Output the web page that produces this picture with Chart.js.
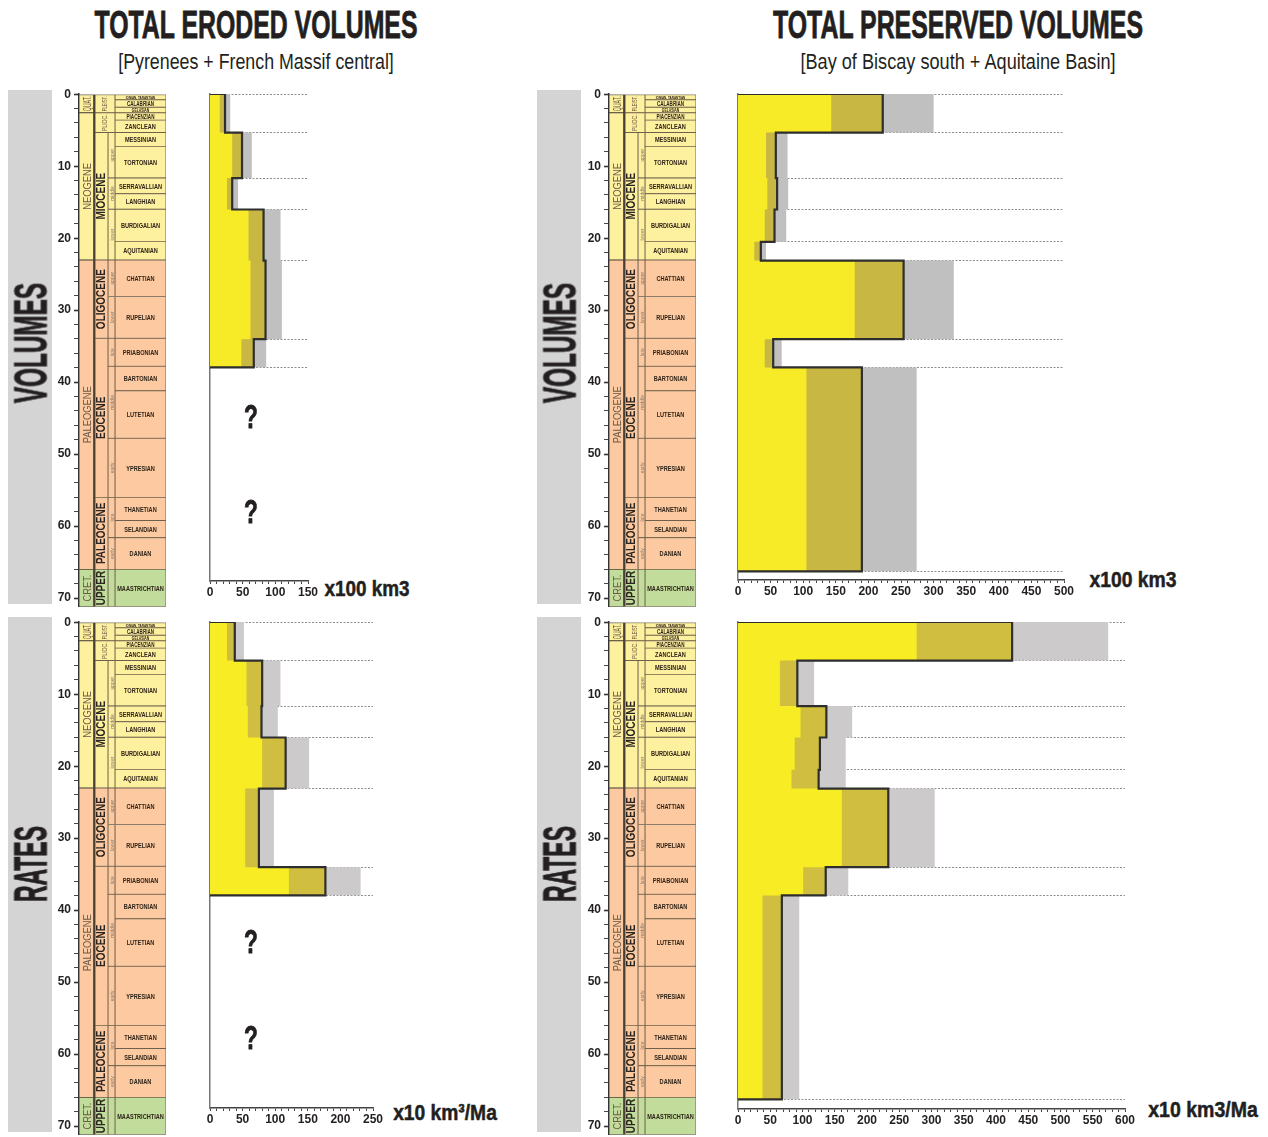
<!DOCTYPE html>
<html>
<head>
<meta charset="utf-8">
<title>Total eroded vs preserved volumes</title>
<script src="https://cdn.jsdelivr.net/npm/chart.js@4.4.1/dist/chart.umd.min.js"></script>
<style>
  html, body { margin: 0; padding: 0; background: #fff; }
  body { position: relative; width: 1268px; height: 1137px; overflow: hidden; font-family: 'Liberation Sans', Arial, sans-serif; color: #231f20; }
  .band { position: absolute; background: #d4d4d4; }
  .lbl { position: absolute; white-space: nowrap; line-height: 1; }
  canvas { position: absolute; }
</style>
</head>
<body>
<div class="band" style="left:8px;top:90px;width:44px;height:514px"></div>
<div class="band" style="left:8px;top:617px;width:44px;height:515px"></div>
<div class="band" style="left:537px;top:90px;width:44px;height:514px"></div>
<div class="band" style="left:537px;top:617px;width:44px;height:515px"></div>

<script>
// --- time scale (Ma) ---
const eraNames = ['QUAT.', 'NEOGENE', 'PALEOGENE', 'CRET.'];
const eraBounds = [0, 2.58, 23.03, 66, 71.2];
const upperEpochNames = ['PLEIST.', 'PLIOC.'];
const upperEpochBounds = [0, 2.58, 5.33];
const epochNames = ['MIOCENE', 'OLIGOCENE', 'EOCENE', 'PALEOCENE', 'UPPER'];
const epochBounds = [5.33, 23.03, 33.9, 56, 66, 71.2];
const subNames = ['upper', 'middle', 'lower', 'upper', 'lower', 'late', 'middle', 'early', 'late', 'early', ''];
const subBounds = [5.33, 11.63, 15.97, 23.03, 28.1, 33.9, 37.8, 47.8, 56, 61.6, 66, 71.2];
const stageNames = ['IONIAN, TARANTIAN', 'CALABRIAN', 'GELASIAN', 'PIACENZIAN', 'ZANCLEAN', 'MESSINIAN', 'TORTONIAN',
  'SERRAVALLIAN', 'LANGHIAN', 'BURDIGALIAN', 'AQUITANIAN', 'CHATTIAN', 'RUPELIAN', 'PRIABONIAN', 'BARTONIAN',
  'LUTETIAN', 'YPRESIAN', 'THANETIAN', 'SELANDIAN', 'DANIAN', 'MAASTRICHTIAN'];
const stageBounds = [0, 0.78, 1.8, 2.58, 3.6, 5.33, 7.25, 11.63, 13.82, 15.97, 20.44, 23.03, 28.1, 33.9, 37.8,
  41.2, 47.8, 56, 59.2, 61.6, 66, 71.2];

// --- eroded (Pyrenees + Massif central) ---
const erodedBounds = [0, 5.33, 11.63, 15.97, 23.03, 33.9, 37.8];
const erodedVolMin = [15, 34, 26, 59, 62, 48];
const erodedVolMid = [23, 49, 34, 82, 85, 67];
const erodedVolMax = [31, 64, 43, 108, 110, 86];
const erodedRateMin = [26, 56, 58, 80, 54, 121];
const erodedRateMid = [38, 80, 79, 116, 75, 177];
const erodedRateMax = [52, 108, 104, 152, 98, 231];

// --- preserved (Bay of Biscay south + Aquitaine) ---
const preservedBounds = [0, 5.33, 11.63, 15.97, 20.44, 23.03, 33.9, 37.8, 66];
const preservedVolMin = [143, 43, 45, 41, 25, 179, 41, 105];
const preservedVolMid = [222, 58, 60, 56, 35, 254, 54, 190];
const preservedVolMax = [300, 76, 77, 74, 43, 331, 67, 274];
const preservedRateMin = [277, 65, 97, 88, 83, 161, 101, 38];
const preservedRateMid = [425, 92, 137, 127, 125, 233, 136, 68];
const preservedRateMax = [574, 118, 177, 167, 167, 305, 171, 95];

const TS_MAX = 71.2;
const TS_H = 515;               // pixel height of the time column
const PX_PER_MA = TS_H / TS_MAX;
const FONT = "'Liberation Sans', Arial, sans-serif";

function periodColor(top, base) {
  const mid = (top + base) / 2;
  if (mid < 23.03) return '#fdf09f';
  if (mid < 66) return '#fcc9a1';
  return '#c2dc9c';
}

function cells(names, bounds, x) {
  return names.map((n, i) => ({ x: x, y: [bounds[i], bounds[i + 1]] }));
}

function addCanvas(left, top, w, h) {
  const c = document.createElement('canvas');
  c.width = w; c.height = h;
  c.style.left = left + 'px'; c.style.top = top + 'px';
  document.body.appendChild(c);
  return c;
}

// text inside the time column cells
const cellTextPlugin = {
  id: 'cellText',
  afterDatasetsDraw(chart) {
    const ctx = chart.ctx;
    chart.data.datasets.forEach((ds, di) => {
      if (!ds.cellText) return;
      chart.getDatasetMeta(di).data.forEach((bar, i) => {
        const txt = ds.cellText[i];
        if (!txt) return;
        const p = bar.getProps(['x', 'y', 'base', 'width'], true);
        const h = Math.abs(p.base - p.y);
        ctx.save();
        ctx.translate(p.x, (p.y + p.base) / 2);
        let size = ds.textSize;
        let avail;
        if (ds.textRotate) {
          ctx.rotate(-Math.PI / 2);
          avail = h - 3;
        } else {
          size = Math.min(size, h - 0.8);
          avail = p.width - 4;
        }
        ctx.font = ds.textWeight + ' ' + size + 'px ' + FONT;
        const tw = ctx.measureText(txt).width;
        ctx.scale(Math.min(ds.textSqueeze, avail / tw), 1);
        ctx.fillStyle = ds.textColor;
        ctx.textAlign = 'center';
        ctx.textBaseline = 'middle';
        ctx.fillText(txt, 0, 0.5);
        ctx.restore();
      });
    });
  }
};

function columnDataset(names, bounds, x, w, text, extra) {
  return Object.assign({
    data: cells(names, bounds, x),
    barThickness: w,
    backgroundColor: ctx => {
      const r = ctx.raw; return r ? periodColor(r.y[0], r.y[1]) : '#fff';
    },
    borderColor: '#6f604c',
    borderWidth: 0.8,
    borderSkipped: false,
    cellText: names,
    textColor: '#3b2f22'
  }, text, extra || {});
}

function makeTimeScale(left, top) {
  const canvas = addCanvas(left - 40, top - 10, 127, TS_H + 18);
  new Chart(canvas, {
    type: 'bar',
    data: {
      datasets: [
        columnDataset(eraNames, eraBounds, 8, 16, { textRotate: true, textSize: 11, textWeight: 'normal', textSqueeze: 0.85, textColor: '#6b5a45' },
          { borderWidth: { top: 0.8, bottom: 0.8, left: 0.8, right: 2.2 }, borderColor: '#4a4035' }),
        columnDataset(upperEpochNames, upperEpochBounds, 26, 20, { textRotate: true, textSize: 6.5, textWeight: 'normal', textSqueeze: 0.85, textColor: '#6b5a45' }),
        columnDataset(epochNames, epochBounds, 22.5, 13, { textRotate: true, textSize: 12.5, textWeight: 'bold', textSqueeze: 0.8, textColor: '#2a2520' }),
        columnDataset(subNames, subBounds, 32.5, 7, { textRotate: true, textSize: 5.5, textWeight: 'normal', textSqueeze: 0.9, textColor: '#8a7a66' }),
        columnDataset(stageNames, stageBounds, 61.5, 51, { textRotate: false, textSize: 8, textWeight: 'bold', textSqueeze: 0.7, textColor: '#2f2418' })
      ]
    },
    options: {
      responsive: false,
      animation: false,
      layout: { padding: { top: 10, bottom: 8, left: 0, right: 0 } },
      plugins: { legend: { display: false }, tooltip: { enabled: false } },
      datasets: { bar: { grouped: false } },
      scales: {
        x: { type: 'linear', display: false, min: 0, max: 87, offset: false, grid: { offset: false } },
        y: {
          type: 'linear', reverse: true, min: 0, max: TS_MAX,
          ticks: { stepSize: 2, includeBounds: false, autoSkip: false, padding: 3, color: '#231f20',
            font: { family: FONT, size: 12, weight: 'bold' },
            callback: v => (v % 10 === 0 ? v : '') },
          grid: { drawOnChartArea: false, tickLength: 5, color: '#333',
            tickWidth: c => (c.tick && c.tick.value % 10 === 0 ? 1.6 : 0.9) },
          border: { color: '#333', width: 1.5 },
          afterFit: s => { s.width = 40; }
        }
      }
    },
    plugins: [cellTextPlugin]
  });
}

function stepPoints(bounds, vals) {
  const pts = [{ x: 0, y: bounds[0] }];
  vals.forEach((v, i) => {
    pts.push({ x: v, y: bounds[i] });
    pts.push({ x: v, y: bounds[i + 1] });
  });
  pts.push({ x: 0, y: bounds[bounds.length - 1] });
  return pts;
}

function makeBars(left, top, areaW, axisY, xMax, bounds, mins, mids, maxs, pal) {
  const areaH = axisY - top;
  const canvas = addCanvas(left - 10, top - 10, areaW + 24, areaH + 32);
  new Chart(canvas, {
    type: 'line',
    data: {
      datasets: [
        { data: stepPoints(bounds, mids), borderColor: '#2e2e2e', borderWidth: 2.2, fill: false },
        { data: stepPoints(bounds, mins), borderWidth: 0, borderColor: 'rgba(0,0,0,0)', backgroundColor: pal[0], fill: 'origin' },
        { data: stepPoints(bounds, mids), borderWidth: 0, borderColor: 'rgba(0,0,0,0)', backgroundColor: pal[1], fill: 'origin' },
        { data: stepPoints(bounds, maxs), borderWidth: 0, borderColor: 'rgba(0,0,0,0)', backgroundColor: pal[2], fill: 'origin' }
      ]
    },
    options: {
      indexAxis: 'y',
      responsive: false,
      animation: false,
      elements: { point: { radius: 0 }, line: { tension: 0, borderJoinStyle: 'miter' } },
      layout: { padding: { top: 10, bottom: 0, left: 10, right: 14 } },
      plugins: { legend: { display: false }, tooltip: { enabled: false } },
      scales: {
        x: {
          type: 'linear', min: 0, max: xMax, offset: false,
          ticks: { stepSize: 10, autoSkip: false, maxRotation: 0, padding: 1, color: '#231f20',
            font: { family: FONT, size: 12, weight: 'bold' },
            callback: v => (v % 50 === 0 ? v : '') },
          grid: { drawOnChartArea: false, tickLength: 3, color: '#444', offset: false },
          border: { color: '#444', width: 1.5 },
          afterFit: s => { s.height = 22; }
        },
        y: {
          type: 'linear', reverse: true, min: 0, max: areaH / PX_PER_MA,
          ticks: { display: false },
          grid: { drawTicks: false, color: '#808080', lineWidth: 0.9 },
          border: { color: '#777', width: 1.5, dash: [2, 1.5] },
          afterBuildTicks: s => { s.ticks = bounds.map(v => ({ value: v })); },
          afterFit: s => { s.width = 0; }
        }
      }
    }
  });
}

function putText(txt, cx, cy, w, size, weight, rotate, stroke) {
  const d = document.createElement('div');
  d.className = 'lbl';
  d.textContent = txt;
  d.style.font = weight + ' ' + size + 'px ' + FONT;
  d.style.left = cx + 'px';
  d.style.top = cy + 'px';
  if (stroke) d.style.webkitTextStroke = stroke + 'px #231f20';
  document.body.appendChild(d);
  const sx = w / d.offsetWidth;
  d.style.transform = 'translate(-50%,-50%) ' + (rotate ? 'rotate(-90deg) ' : '') + 'scaleX(' + sx + ')';
}

const volPal = ['#f6eb26', '#c8b743', '#c0c0c0'];
const ratePal = ['#f8ec24', '#cfbe3f', '#cdcacb'];

makeTimeScale(79, 94);
makeTimeScale(609, 94);
makeTimeScale(79, 622);
makeTimeScale(609, 622);

makeBars(210, 94, 98, 581, 150, erodedBounds, erodedVolMin, erodedVolMid, erodedVolMax, volPal);
makeBars(738, 94, 326, 580, 500, preservedBounds, preservedVolMin, preservedVolMid, preservedVolMax, volPal);
makeBars(210, 622, 163, 1108, 250, erodedBounds, erodedRateMin, erodedRateMid, erodedRateMax, ratePal);
makeBars(738, 622, 387, 1109, 600, preservedBounds, preservedRateMin, preservedRateMid, preservedRateMax, ratePal);

putText('TOTAL ERODED VOLUMES', 256, 25, 323, 39, 'bold', false, 0.8);
putText('[Pyrenees + French Massif central]', 256, 62, 276, 22, 'normal');
putText('TOTAL PRESERVED VOLUMES', 958, 25, 370, 39, 'bold', false, 0.8);
putText('[Bay of Biscay south + Aquitaine Basin]', 958, 62, 315, 22, 'normal');
putText('VOLUMES', 30, 343, 120, 47, 'bold', true, 1);
putText('VOLUMES', 559, 343, 120, 47, 'bold', true, 1);
putText('RATES', 30, 864, 76, 47, 'bold', true, 1);
putText('RATES', 559, 864, 76, 47, 'bold', true, 1);
putText('x100 km3', 367, 589, 85, 22, 'bold', false, 0.5);
putText('x100 km3', 1133, 580, 87, 22, 'bold', false, 0.5);
putText('x10 km\u00b3/Ma', 445, 1113, 104, 22, 'bold', false, 0.5);
putText('x10 km3/Ma', 1203, 1110, 110, 22, 'bold', false, 0.5);
putText('?', 251, 416, 14, 34, 'bold', false, 0.8);
putText('?', 251, 511, 14, 34, 'bold', false, 0.8);
putText('?', 251, 941, 14, 34, 'bold', false, 0.8);
putText('?', 251, 1037, 14, 34, 'bold', false, 0.8);
</script>
</body>
</html>
